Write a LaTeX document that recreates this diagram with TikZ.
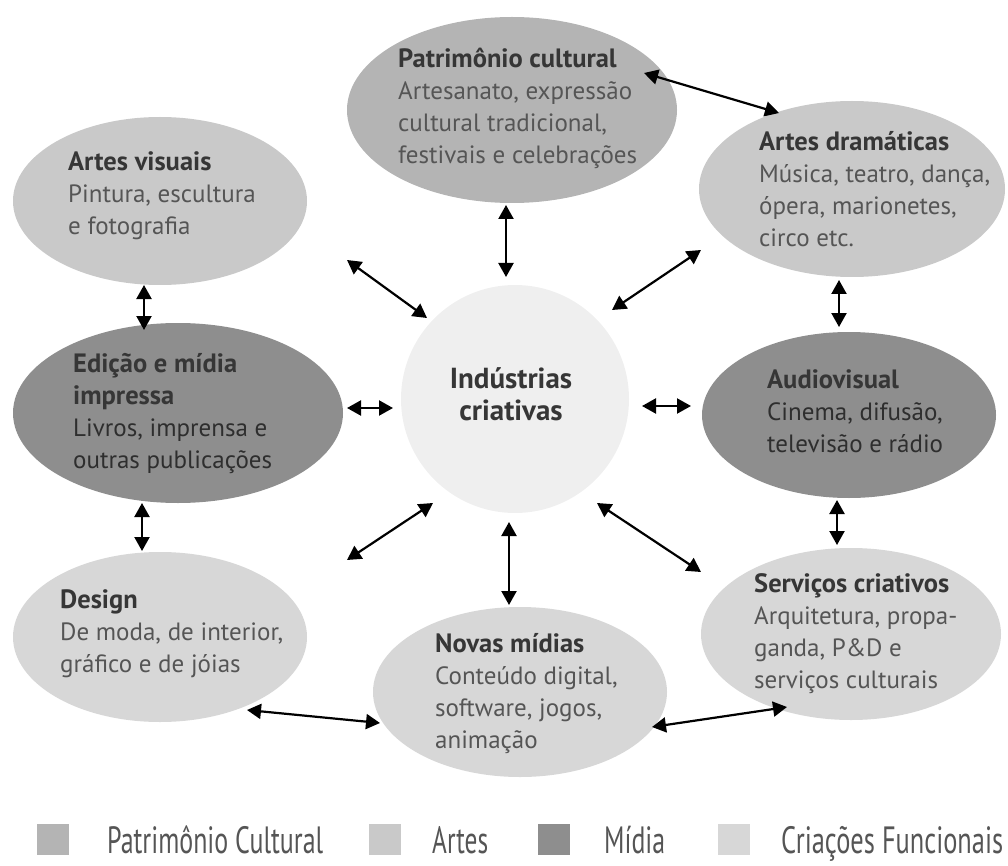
\documentclass[tikz,border=0pt]{standalone}
\usepackage{graphicx}
\usepackage{fontspec}
\setmainfont{PT Sans}
\usetikzlibrary{shapes.geometric, arrows.meta}

\definecolor{patrim}{HTML}{B4B4B4}
\definecolor{artes}{HTML}{C9C9C9}
\definecolor{midia}{HTML}{8E8E8E}
\definecolor{funcional}{HTML}{D7D7D7}
\definecolor{centro}{HTML}{EFEFEF}
\definecolor{bodytext}{HTML}{555555}
\definecolor{titletext}{HTML}{363636}

\newcommand\blobtitle[1]{{\color{titletext}\fontsize{26.5}{32}\selectfont\bfseries #1}}
\newcommand\firstline{\rule{0pt}{22pt}}

\tikzset{
  blob/.style={ellipse, inner sep=0pt, draw=none},
  blurb/.style={anchor=north west, align=left, inner sep=0pt, text=bodytext,
                font=\fontsize{25}{32}\selectfont},
  dbl/.style={{Triangle[length=14pt,width=15pt]}-{Triangle[length=14pt,width=15pt]},
              line width=2.2pt, black},
  swatch/.style={inner sep=0pt, minimum width=32pt, minimum height=31pt, anchor=north west},
  legtext/.style={anchor=base west, inner sep=0pt, text=bodytext},
}

\begin{document}
\begin{tikzpicture}[x=1pt, y=-1pt]
\useasboundingbox (0,0) rectangle (1008,866);

% sector ellipses
\node[blob, fill=patrim,    minimum width=330pt, minimum height=186pt] (pc) at (512,110) {};
\node[blob, fill=artes,     minimum width=294pt, minimum height=168pt] (av) at (160,201) {};
\node[blob, fill=artes,     minimum width=306pt, minimum height=176pt] (ad) at (852,189) {};
\node[blob, fill=midia,     minimum width=330pt, minimum height=180pt] (ed) at (178,413) {};
\node[circle, inner sep=0pt, fill=centro, minimum size=228pt] (ce) at (515,399) {};
\node[blob, fill=midia,     minimum width=294pt, minimum height=166pt] (au) at (849,415) {};
\node[blob, fill=funcional, minimum width=294pt, minimum height=170pt] (de) at (160,637) {};
\node[blob, fill=funcional, minimum width=294pt, minimum height=170pt] (nm) at (520,692) {};
\node[blob, fill=funcional, minimum width=300pt, minimum height=172pt] (sc) at (851,634) {};

% texts
\node[blurb] (pc-t) at (398,45) {\firstline\blobtitle{Patrimônio cultural}\\Artesanato, expressão\\cultural tradicional,\\festivais e celebrações};
\node[blurb] (av-t) at (68,148) {\firstline\blobtitle{Artes visuais}\\Pintura, escultura\\e fotografia};
\node[blurb] (ad-t) at (759,128) {\firstline\blobtitle{Artes dramáticas}\\Música, teatro, dança,\\ópera, marionetes,\\circo etc.};
\node[blurb, text=titletext!85!black] (ed-t) at (73,350) {\firstline\blobtitle{Edição e mídia}\\\blobtitle{impressa}\\Livros, imprensa e\\outras publicações};
\node[blurb, anchor=north, align=center, font=\fontsize{29}{32}\selectfont] (ce-t) at (511,364)
  {\rule{0pt}{24pt}{\color{titletext}\bfseries Indústrias}\\{\color{titletext}\bfseries criativas}};
\node[blurb, text=titletext!85!black] (au-t) at (767,366) {\firstline\blobtitle{Audiovisual}\\Cinema, difusão,\\televisão e rádio};
\node[blurb] (de-t) at (60,586) {\firstline\blobtitle{Design}\\De moda, de interior,\\gráfico e de jóias};
\node[blurb] (nm-t) at (435,630) {\firstline\blobtitle{Novas mídias}\\Conteúdo digital,\\software, jogos,\\animação};
\node[blurb] (sc-t) at (754,570) {\firstline\blobtitle{Serviços criativos}\\Arquitetura, propa-\\ganda, P\&D e\\serviços culturais};

% connector ends
\coordinate (pc-ad1) at (644,73);  \coordinate (pc-ad2) at (779,113);
\coordinate (pc-ce1) at (506,205); \coordinate (pc-ce2) at (506,277);
\coordinate (av-ce1) at (347,260); \coordinate (av-ce2) at (427,318);
\coordinate (ad-ce1) at (701,250); \coordinate (ad-ce2) at (612,310);
\coordinate (av-ed1) at (144,285); \coordinate (av-ed2) at (144,330);
\coordinate (ad-au1) at (839,280); \coordinate (ad-au2) at (839,327);
\coordinate (ed-ce1) at (347,408); \coordinate (ed-ce2) at (393,408);
\coordinate (ce-au1) at (642,406); \coordinate (ce-au2) at (691,406);
\coordinate (ed-de1) at (142,503); \coordinate (ed-de2) at (142,551);
\coordinate (au-sc1) at (837,500); \coordinate (au-sc2) at (837,545);
\coordinate (ce-de1) at (433,503); \coordinate (ce-de2) at (347,560);
\coordinate (ce-nm1) at (509,522); \coordinate (ce-nm2) at (509,605);
\coordinate (ce-sc1) at (597,503); \coordinate (ce-sc2) at (701,572);
\coordinate (de-nm1) at (247,710); \coordinate (de-nm2) at (380,723);
\coordinate (nm-sc1) at (652,727); \coordinate (nm-sc2) at (787,707);

% connectors
\foreach \a in {pc-ad, pc-ce, av-ce, ad-ce, av-ed, ad-au, ed-ce, ce-au,
                ed-de, au-sc, ce-de, ce-nm, ce-sc, de-nm, nm-sc}
  \draw[dbl] (\a1) -- (\a2);

% legend
\node[swatch, fill=patrim]    (lg1) at (37,824) {};
\node[swatch, fill=artes]     (lg2) at (369,824) {};
\node[swatch, fill=midia]     (lg3) at (538,824) {};
\node[swatch, fill=funcional] (lg4) at (718,824) {};
\node[legtext] (lg1-t) at (107,853) {\resizebox{216pt}{\height}{\fontsize{38}{38}\selectfont Patrimônio Cultural}};
\node[legtext] (lg2-t) at (432,853) {\resizebox{56pt}{\height}{\fontsize{38}{38}\selectfont Artes}};
\node[legtext] (lg3-t) at (604,853) {\resizebox{61pt}{\height}{\fontsize{38}{38}\selectfont Mídia}};
\node[legtext] (lg4-t) at (781,853) {\resizebox{222pt}{\height}{\fontsize{38}{38}\selectfont Criações Funcionais}};
\end{tikzpicture}
\end{document}
